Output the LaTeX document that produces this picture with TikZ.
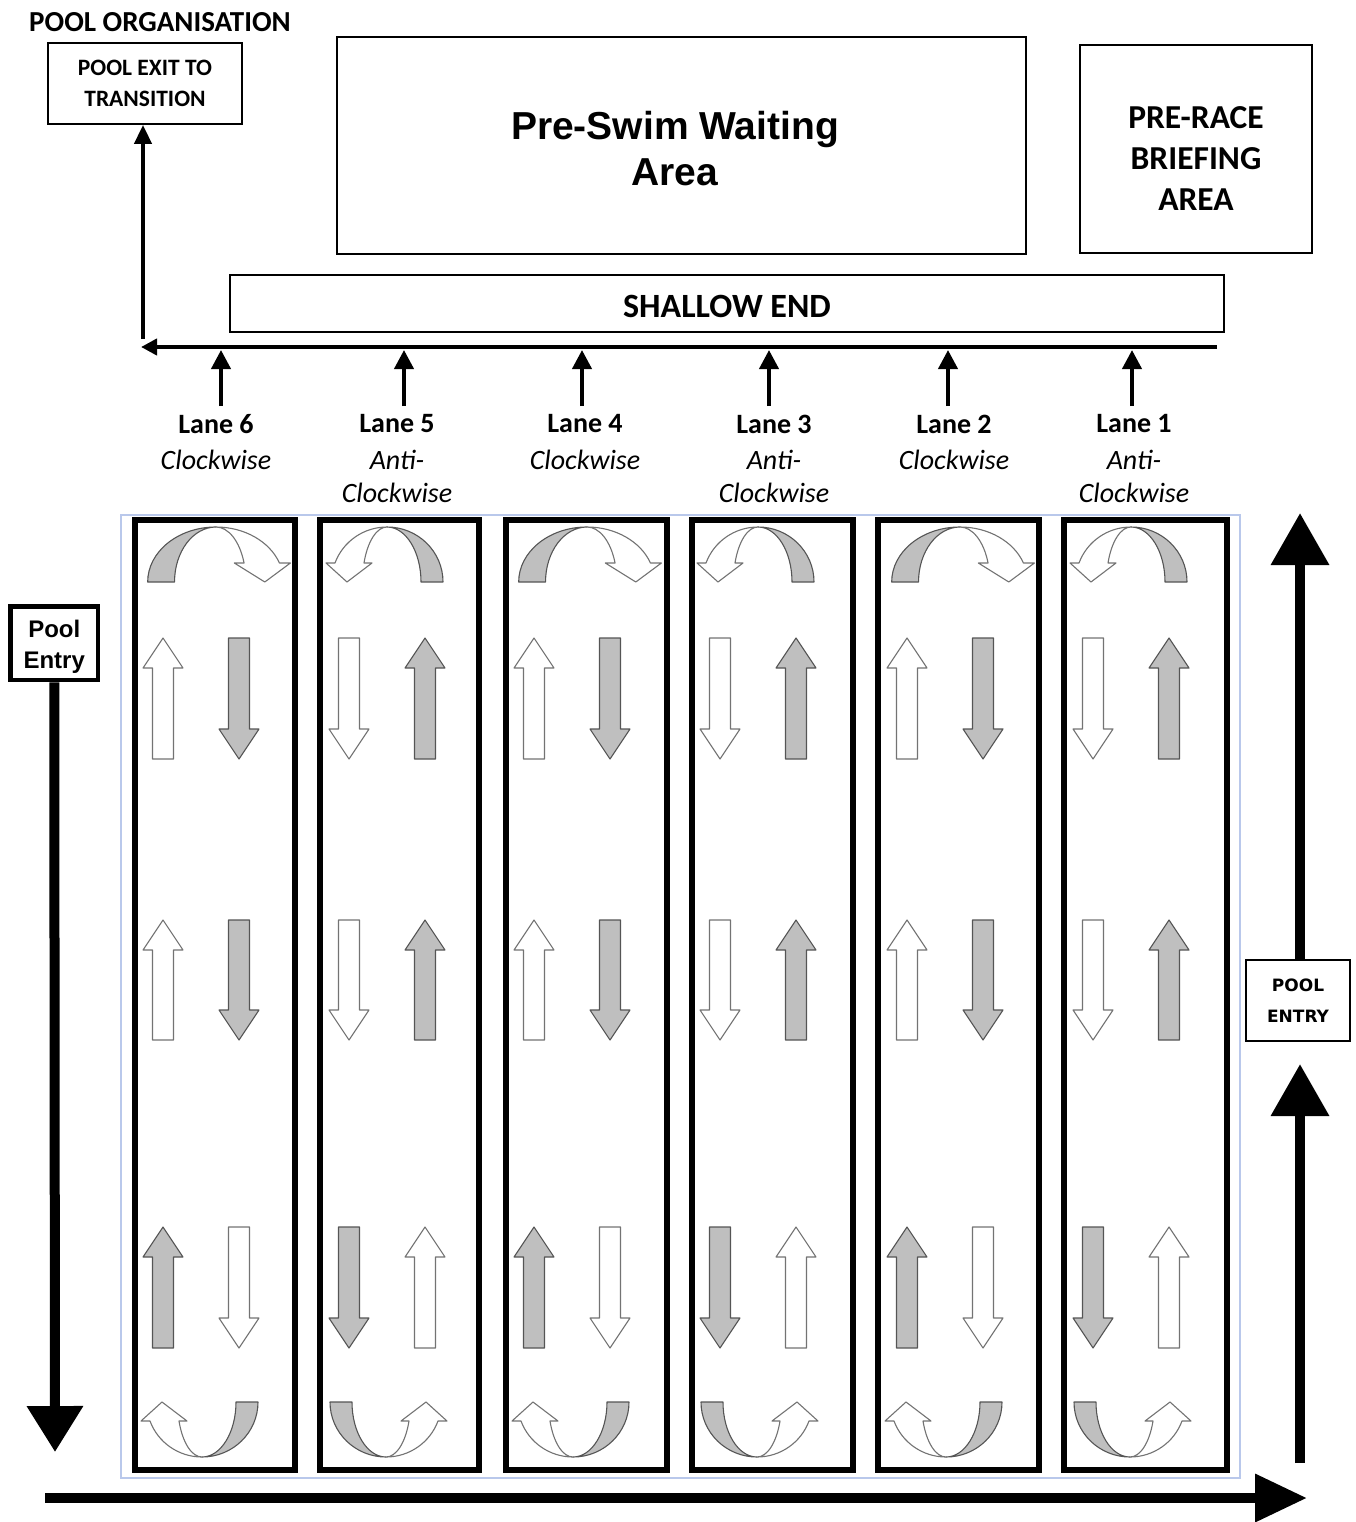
\documentclass[tikz,border=0pt]{standalone}
\usepackage{fontspec}
\newfontfamily\carlito{Carlito}
\newfontfamily\libsans{Liberation Sans}
\newfontfamily\dejavu{DejaVu Sans}
\usetikzlibrary{arrows.meta}
\definecolor{lightblue}{RGB}{185,200,235}
\definecolor{arrgrey}{RGB}{191,191,191}
\definecolor{arredge}{RGB}{85,85,85}
\definecolor{wedge}{RGB}{115,115,115}
\newcommand\uparr[4]{\filldraw[#4] (#1-10.5,#3) -- (#1-10.5,#2+30) -- (#1-20,#2+30) -- (#1,#2) -- (#1+20,#2+30) -- (#1+10.5,#2+30) -- (#1+10.5,#3) -- cycle;}
\newcommand\dnarr[4]{\filldraw[#4] (#1-10.5,#2) -- (#1-10.5,#3-30) -- (#1-20,#3-30) -- (#1,#3) -- (#1+20,#3-30) -- (#1+10.5,#3-30) -- (#1+10.5,#2) -- cycle;}
\newcommand\uturn[4]{%
\begin{scope}[shift={(#1,#2)}, xscale=#3, yscale=#4]
\filldraw[greyarr] (-56,55) .. controls (-56,24.6) and (-30.9,0) .. (0,0) .. controls (-18.8,0) and (-34,24.6) .. (-34,55) -- cycle;
\filldraw[whitearr] (0,0) .. controls (23.2,0) and (44,14.4) .. (52,36) -- (61,36) -- (40,55) -- (15,36) -- (23,36) .. controls (19.5,14.4) and (10.3,0) .. (0,0) -- cycle;
\end{scope}}
\begin{document}
\begin{tikzpicture}[x=1pt,y=-1pt,
  thinbox/.style={draw, line width=1.8pt, inner sep=0pt},
  lanebox/.style={draw, line width=5.5pt, inner sep=0pt, minimum height=950pt},
  greyarr/.style={fill=arrgrey, draw=arredge, line width=1.1pt, line join=round},
  whitearr/.style={fill=white, draw=wedge, line width=1.1pt, line join=round},
  smallarr/.style={line width=4pt, -{Triangle[length=19pt,width=19pt]}},
  bigarr/.style={line width=10pt, -{Triangle[length=52pt,width=56pt]}},
  lanelab/.style={font=\carlito\bfseries\fontsize{28}{33}\selectfont, inner sep=0pt},
  dirlab/.style={font=\carlito\itshape\fontsize{28}{33}\selectfont, inner sep=0pt, align=center}
]
\useasboundingbox (0,0) rectangle (1356,1522);

% top texts and boxes
\node[font=\carlito\bfseries\fontsize{29}{34}\selectfont, inner sep=0pt] (title) at (160,22) {POOL ORGANISATION};
\node[thinbox, minimum width=194pt, minimum height=81pt, align=center,
      font=\carlito\bfseries\fontsize{23.5}{31}\selectfont] (exit) at (145,83.5) {POOL EXIT TO\\TRANSITION};
\node[thinbox, minimum width=689pt, minimum height=217pt] (preswim) at (681.5,145.5) {};
\node[font=\libsans\bfseries\fontsize{39}{46}\selectfont, align=center, inner sep=0pt] (preswimtext) at (675,149) {Pre-Swim Waiting\\Area};
\node[thinbox, minimum width=232pt, minimum height=208pt] (prerace) at (1196,149) {};
\node[font=\carlito\bfseries\fontsize{33.5}{41}\selectfont, align=center, inner sep=0pt] (preracetext) at (1196,159) {PRE-RACE\\BRIEFING\\AREA};
\node[thinbox, minimum width=994pt, minimum height=57pt] (shallow) at (727,303.5) {};
\node[font=\carlito\bfseries\fontsize{34}{40}\selectfont, inner sep=0pt] (shallowtext) at (727,306.5) {SHALLOW END};

% collector line and exit
\coordinate (hr) at (1217,347);
\coordinate (hl) at (141,347);
\coordinate (vb) at (143,339);
\draw[line width=4pt, -{Triangle[length=16pt,width=16pt]}] (hr) -- (hl);
\draw[line width=4pt, -{Triangle[length=19pt,width=17pt]}] (vb) -- (vb |- exit.south);

% lane labels and small arrows
\foreach \n/\x/\ax in {6/216/221, 5/397/404, 4/585/582, 3/774/769, 2/954/948, 1/1134/1132}{
  \node[lanelab] (lane\n) at (\x,424) {Lane \n};
  \coordinate (sb\n) at (\ax,406);
  \coordinate (st\n) at (\ax,350);
  \draw[smallarr] (sb\n) -- (st\n);
}
\node[dirlab] (dir6) at (216,460) {Clockwise};
\node[dirlab] (dir4) at (585,460) {Clockwise};
\node[dirlab] (dir2) at (954,460) {Clockwise};
\node[dirlab] (dir5) at (397,476.5) {Anti-\\Clockwise};
\node[dirlab] (dir3) at (774,476.5) {Anti-\\Clockwise};
\node[dirlab] (dir1) at (1134,476.5) {Anti-\\Clockwise};

% pool area
\node[draw=lightblue, line width=1.5pt, minimum width=1119pt, minimum height=963pt, inner sep=0pt] (poolarea) at (680.5,996.5) {};

% lane contents
\foreach \L in {133,504,877}{
  \uparr{\L+30}{638}{759}{whitearr} \dnarr{\L+106}{638}{759}{greyarr}
  \uparr{\L+30}{920}{1040}{whitearr} \dnarr{\L+106}{920}{1040}{greyarr}
  \uparr{\L+30}{1227}{1348}{greyarr} \dnarr{\L+106}{1227}{1348}{whitearr}
  \uturn{\L+83}{527}{1.22}{1}
  \uturn{\L+69}{1457}{-1}{-1}
}
\foreach \L in {319,690,1063}{
  \dnarr{\L+30}{638}{759}{whitearr} \uparr{\L+106}{638}{759}{greyarr}
  \dnarr{\L+30}{920}{1040}{whitearr} \uparr{\L+106}{920}{1040}{greyarr}
  \dnarr{\L+30}{1227}{1348}{greyarr} \uparr{\L+106}{1227}{1348}{whitearr}
  \uturn{\L+68}{527}{-1}{1}
  \uturn{\L+67}{1457}{1}{-1}
}

% lane boxes
\node[lanebox, minimum width=160pt] (box6) at (215,995) {};
\node[lanebox, minimum width=159pt] (box5) at (399.5,995) {};
\node[lanebox, minimum width=161pt] (box4) at (586.5,995) {};
\node[lanebox, minimum width=161pt] (box3) at (772.5,995) {};
\node[lanebox, minimum width=161pt] (box2) at (958.5,995) {};
\node[lanebox, minimum width=163pt] (box1) at (1145.5,995) {};

% left pool entry
\node[draw, line width=4.5pt, minimum width=87.5pt, minimum height=73.5pt, inner sep=0pt] (entryL) at (54.25,643.25) {};
\node[font=\libsans\bfseries\fontsize{24}{31}\selectfont, align=center, inner sep=0pt] (entryLtext) at (54.25,646.5) {Pool\\Entry};
\coordinate (ltip) at (55,1452);
\draw[line width=10pt, -{Triangle[length=46pt,width=54pt]}] (entryL.south) -- (ltip);

% right pool entry
\node[thinbox, minimum width=104pt, minimum height=81pt, align=center,
      font=\dejavu\bfseries\fontsize{17}{31}\selectfont] (entryR) at (1298,1000.5) {POOL\\ENTRY};
\coordinate (rtop) at (1300,513);
\coordinate (rbot) at (1300,1463);
\coordinate (rmid) at (1300,1064);
\draw[bigarr] (entryR.north -| rtop) -- (rtop);
\draw[bigarr] (rbot) -- (rmid);

% bottom arrow
\coordinate (bl) at (45,1498);
\coordinate (br) at (1307,1498);
\draw[line width=10pt, -{Triangle[length=52pt,width=46pt]}] (bl) -- (br);
\end{tikzpicture}
\end{document}
